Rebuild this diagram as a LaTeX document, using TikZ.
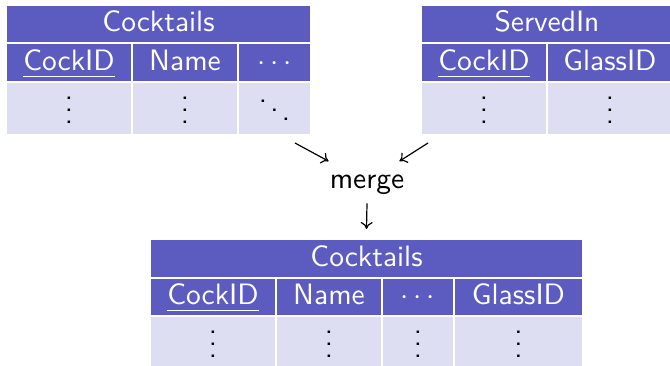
\documentclass[tikz,border=0pt]{standalone}
\usepackage{fontspec}
\usepackage{graphicx}
\usetikzlibrary{arrows.meta}
\definecolor{hdr}{RGB}{92,92,192}
\definecolor{dat}{RGB}{222,222,242}
\newsavebox{\keybox}
\newcommand\sx[1]{\scalebox{2.95}{\sffamily #1}}
\newcommand\keyu[1]{\sbox{\keybox}{#1}\rlap{\rule[-2.2pt]{\wd\keybox}{0.4pt}}\usebox{\keybox}}
\tikzset{
  cell/.style={rectangle, inner sep=0pt, outer sep=0pt, anchor=center},
  hd/.style={cell, fill=hdr, text=white, text height=20.5pt, text depth=5pt},
  dt/.style={cell, fill=dat, text=black, text height=35pt, text depth=5pt},
  arr/.style={-{To[length=7pt,width=12pt]}, line width=1.2pt}
}
\begin{document}
\begin{tikzpicture}[x=1pt,y=-1pt]
\useasboundingbox (0,0) rectangle (670,365);
% Table A
\node[hd, minimum width=303pt, minimum height=36pt] (At) at (158.5,24) {\sx{Cocktails}};
\node[hd, minimum width=124pt, minimum height=37pt] (Ah1) at (69,62.5) {\sx{\keyu{CockID}}};
\node[hd, minimum width=104pt, minimum height=37pt] (Ah2) at (185,62.5) {\sx{Name}};
\node[hd, minimum width=71pt, minimum height=37pt] (Ah3) at (274.5,62.5) {\sx{$\cdots$}};
\node[dt, minimum width=124pt, minimum height=51pt] (Ad1) at (69,108.5) {\sx{$\vdots$}};
\node[dt, minimum width=104pt, minimum height=51pt] (Ad2) at (185,108.5) {\sx{$\vdots$}};
\node[dt, minimum width=71pt, minimum height=51pt] (Ad3) at (274.5,108.5) {\sx{$\ddots$}};
% Table B
\node[hd, minimum width=250pt, minimum height=36pt] (Bt) at (547,24) {\sx{ServedIn}};
\node[hd, minimum width=124pt, minimum height=37pt] (Bh1) at (484,62.5) {\sx{\keyu{CockID}}};
\node[hd, minimum width=124pt, minimum height=37pt] (Bh2) at (610,62.5) {\sx{GlassID}};
\node[dt, minimum width=124pt, minimum height=51pt] (Bd1) at (484,108.5) {\sx{$\vdots$}};
\node[dt, minimum width=124pt, minimum height=51pt] (Bd2) at (610,108.5) {\sx{$\vdots$}};
% merge
\node[anchor=base, inner sep=0pt] (mg) at (367,188) {\sx{merge}};
% Table C
\node[hd, minimum width=431pt, minimum height=37pt] (Ct) at (366.5,258.5) {\sx{Cocktails}};
\node[hd, minimum width=124pt, minimum height=36pt] (Ch1) at (213,297) {\sx{\keyu{CockID}}};
\node[hd, minimum width=104pt, minimum height=36pt] (Ch2) at (329,297) {\sx{Name}};
\node[hd, minimum width=70pt, minimum height=36pt] (Ch3) at (418,297) {\sx{$\cdots$}};
\node[hd, minimum width=127pt, minimum height=36pt] (Ch4) at (518.5,297) {\sx{GlassID}};
\node[dt, minimum width=124pt, minimum height=51pt] (Cd1) at (213,342.5) {\sx{$\vdots$}};
\node[dt, minimum width=104pt, minimum height=51pt] (Cd2) at (329,342.5) {\sx{$\vdots$}};
\node[dt, minimum width=70pt, minimum height=51pt] (Cd3) at (418,342.5) {\sx{$\vdots$}};
\node[dt, minimum width=127pt, minimum height=51pt] (Cd4) at (518.5,342.5) {\sx{$\vdots$}};
% arrows
\draw[arr] ([shift={(20.5,9)}]Ad3.south) -- ([shift={(-1,-13)}]mg.north west);
\draw[arr] ([shift={(6,9)}]Bd1.south west) -- ([shift={(-5,-13)}]mg.north east);
\draw[arr] ([shift={(0,9)}]mg.south) -- ([shift={(0,-11)}]Ct.north);
\end{tikzpicture}
\end{document}
